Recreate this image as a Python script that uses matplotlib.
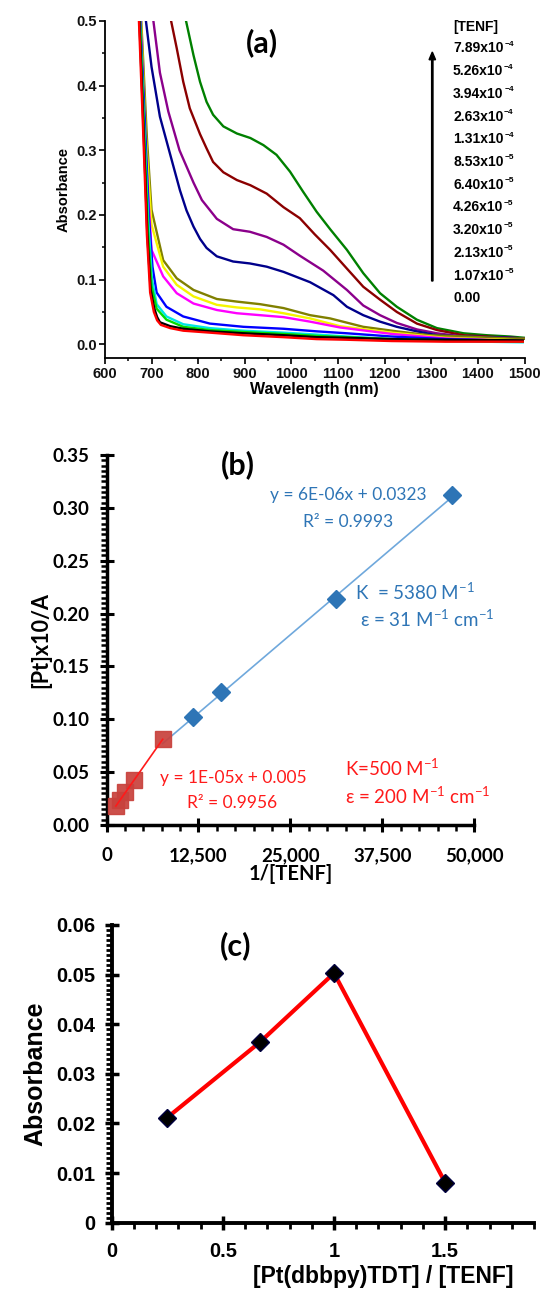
import numpy as np
import matplotlib
matplotlib.use('Agg')
import matplotlib.pyplot as plt
from matplotlib.ticker import MultipleLocator
from matplotlib.patches import FancyArrow
from matplotlib.text import Annotation

plt.rcParams['mathtext.fontset'] = 'custom'
plt.rcParams['mathtext.rm'] = 'Lato'
plt.rcParams['mathtext.bf'] = 'Liberation Sans:bold'

# ---------------- data: panel (a) spectra ----------------
wl_red = [673, 682, 690, 697, 705, 712, 720, 740, 768, 825, 897, 983, 1054, 1119, 1215, 1330, 1496]
ab_red = [0.50, 0.33, 0.17, 0.080, 0.050, 0.037, 0.030, 0.025, 0.021, 0.018, 0.014, 0.011, 0.008, 0.007, 0.005, 0.004, 0.004]
wl_black = [674, 683, 691, 698, 706, 712, 718, 740, 768, 825, 897, 983, 1054, 1119, 1215, 1330, 1496]
ab_black = [0.50, 0.33, 0.17, 0.085, 0.055, 0.042, 0.034, 0.028, 0.024, 0.020, 0.017, 0.014, 0.011, 0.010, 0.008, 0.007, 0.006]
wl_green = [675, 684, 692, 700, 711, 732, 768, 825, 897, 983, 1054, 1119, 1215, 1330, 1496]
ab_green = [0.50, 0.33, 0.18, 0.090, 0.055, 0.038, 0.027, 0.022, 0.019, 0.016, 0.013, 0.011, 0.008, 0.006, 0.004]
wl_cyan = [675, 684, 693, 701, 711, 732, 768, 825, 897, 983, 1054, 1119, 1215, 1330, 1496]
ab_cyan = [0.50, 0.34, 0.19, 0.100, 0.062, 0.043, 0.031, 0.025, 0.021, 0.018, 0.015, 0.012, 0.008, 0.005, 0.003]
wl_blue = [676, 686, 694, 702, 711, 732, 768, 825, 897, 983, 1054, 1119, 1215, 1330, 1496]
ab_blue = [0.50, 0.34, 0.20, 0.120, 0.080, 0.058, 0.043, 0.032, 0.027, 0.024, 0.020, 0.017, 0.012, 0.008, 0.005]
wl_magenta = [676, 687, 700, 725, 754, 790, 840, 883, 933, 983, 1040, 1104, 1215, 1330, 1496]
ab_magenta = [0.50, 0.30, 0.146, 0.105, 0.079, 0.063, 0.053, 0.048, 0.045, 0.042, 0.035, 0.026, 0.016, 0.009, 0.005]
wl_yellow = [677, 688, 700, 725, 754, 790, 840, 883, 933, 983, 1040, 1104, 1215, 1330, 1496]
ab_yellow = [0.50, 0.32, 0.185, 0.120, 0.092, 0.074, 0.061, 0.057, 0.054, 0.048, 0.040, 0.028, 0.018, 0.010, 0.006]
wl_olive = [678, 690, 700, 725, 754, 790, 840, 883, 933, 983, 1040, 1083, 1154, 1226, 1297, 1369, 1469, 1500]
ab_olive = [0.50, 0.32, 0.208, 0.130, 0.102, 0.084, 0.070, 0.066, 0.062, 0.056, 0.045, 0.040, 0.027, 0.020, 0.014, 0.012, 0.009, 0.009]
wl_navy = [688, 700, 718, 747, 761, 775, 790, 804, 818, 840, 875, 911, 947, 983, 1040, 1090, 1119, 1154, 1190, 1226, 1269, 1312, 1369, 1469, 1500]
ab_navy = [0.50, 0.429, 0.352, 0.275, 0.238, 0.207, 0.182, 0.163, 0.149, 0.136, 0.128, 0.125, 0.120, 0.112, 0.096, 0.076, 0.058, 0.045, 0.035, 0.027, 0.020, 0.014, 0.012, 0.010, 0.009]
wl_purple = [704, 718, 736, 760, 790, 808, 840, 875, 911, 947, 983, 1018, 1068, 1119, 1154, 1190, 1226, 1269, 1312, 1369, 1469, 1500]
ab_purple = [0.50, 0.42, 0.36, 0.30, 0.25, 0.223, 0.194, 0.178, 0.174, 0.166, 0.154, 0.137, 0.114, 0.084, 0.060, 0.045, 0.033, 0.023, 0.017, 0.012, 0.010, 0.009]
wl_maroon = [742, 754, 768, 782, 804, 818, 832, 854, 883, 912, 947, 983, 1018, 1050, 1083, 1119, 1154, 1190, 1226, 1269, 1312, 1369, 1469, 1500]
ab_maroon = [0.50, 0.458, 0.406, 0.365, 0.325, 0.303, 0.282, 0.266, 0.254, 0.246, 0.233, 0.212, 0.195, 0.170, 0.146, 0.117, 0.089, 0.069, 0.050, 0.032, 0.022, 0.014, 0.010, 0.009]
wl_dkgreen = [774, 790, 804, 818, 832, 854, 883, 912, 940, 968, 997, 1025, 1054, 1083, 1119, 1154, 1190, 1226, 1269, 1312, 1369, 1419, 1469, 1500]
ab_dkgreen = [0.50, 0.447, 0.406, 0.375, 0.355, 0.337, 0.326, 0.319, 0.308, 0.293, 0.267, 0.236, 0.205, 0.178, 0.146, 0.110, 0.079, 0.058, 0.038, 0.025, 0.017, 0.014, 0.012, 0.010]

spectra_wl = [wl_dkgreen, wl_maroon, wl_purple, wl_navy, wl_olive, wl_yellow,
              wl_magenta, wl_blue, wl_cyan, wl_green, wl_black, wl_red]
spectra_ab = [ab_dkgreen, ab_maroon, ab_purple, ab_navy, ab_olive, ab_yellow,
              ab_magenta, ab_blue, ab_cyan, ab_green, ab_black, ab_red]
spectra_colors = ['#008000', '#8B0000', '#8B008B', '#00008B', '#808000', '#F5F500',
                  '#FF00FF', '#0000FF', '#00E5E5', '#00DD00', '#000000', '#FF0000']

tenf_mant = ['7.89', '5.26', '3.94', '2.63', '1.31', '8.53', '6.40', '4.26', '3.20', '2.13', '1.07']
tenf_exp = ['-4', '-4', '-4', '-4', '-4', '-5', '-5', '-5', '-5', '-5', '-5']

a_xticks = [600, 700, 800, 900, 1000, 1100, 1200, 1300, 1400, 1500]
a_yticks = [0.0, 0.1, 0.2, 0.3, 0.4, 0.5]

# ---------------- data: panel (b) ----------------
inv_red = [1267, 1901, 2538, 3802, 7634]
val_red = [0.0177, 0.024, 0.031, 0.043, 0.081]
inv_blue = [11723, 15625, 31250, 46948]
val_blue = [0.102, 0.1255, 0.2135, 0.312]
blue_line_start = 7634
b_xticks = [0, 12500, 25000, 37500, 50000]
b_xticklabels = ['0', '12,500', '25,000', '37,500', '50,000']
b_yticks = [0.00, 0.05, 0.10, 0.15, 0.20, 0.25, 0.30, 0.35]

# ---------------- data: panel (c) ----------------
ratio = [0.25, 0.667, 1.0, 1.5]
absc = [0.0212, 0.0364, 0.0503, 0.0081]
c_xticks = [0, 0.5, 1, 1.5]
c_xticklabels = ['0', '0.5', '1', '1.5']
c_yticks = [0, 0.01, 0.02, 0.03, 0.04, 0.05, 0.06]
c_yticklabels = ['0', '0.01', '0.02', '0.03', '0.04', '0.05', '0.06']

# ---------------- figure ----------------
W, H = 543, 1289
fig = plt.figure(figsize=(W / 100, H / 100), dpi=100)


def ax_px(l, r, t, b):
    return fig.add_axes([l / W, 1 - b / H, (r - l) / W, (b - t) / H])


def ftext(x, y, s, **kw):
    return fig.text(x / W, 1 - y / H, s, **kw)


ARIAL = ['Liberation Sans', 'DejaVu Sans']
CAL = ['Lato', 'DejaVu Sans']

# ---- panel (a)
axa = ax_px(104.9, 524.6, 21, 358.5)
for wl, ab, col in zip(spectra_wl, spectra_ab, spectra_colors):
    axa.plot(wl, ab, color=col, lw=1.7, solid_joinstyle='round', clip_on=True)
axa.set_xlim(600, 1500)
axa.set_ylim(-0.022, 0.5)
for s in ['top', 'right']:
    axa.spines[s].set_visible(False)
for s in ['left', 'bottom']:
    axa.spines[s].set_linewidth(1.3)
axa.set_xticks(a_xticks)
axa.set_xticklabels([str(v) for v in a_xticks], fontfamily=ARIAL, fontweight='bold', fontsize=10.5)
axa.set_yticks(a_yticks)
axa.set_yticklabels(['%.1f' % v for v in a_yticks], fontfamily=ARIAL, fontweight='bold', fontsize=10.5)
axa.xaxis.set_minor_locator(MultipleLocator(50))
axa.yaxis.set_minor_locator(MultipleLocator(0.05))
axa.tick_params(which='major', direction='out', length=4, width=1.3, pad=2, colors='#111111')
axa.tick_params(which='minor', direction='out', length=2.5, width=1.1)
axa.set_xlabel('Wavelength (nm)', fontfamily=ARIAL, fontweight='bold', fontsize=11.5, labelpad=1)
axa.set_ylabel('Absorbance', fontfamily=ARIAL, fontweight='bold', fontsize=10.5, labelpad=4)
ftext(262, 43, '(a)', fontfamily=CAL, fontweight='bold', fontsize=22, ha='center', va='center')

ftext(453, 27, '[TENF]', fontfamily=ARIAL, fontweight='bold', fontsize=10, ha='left', va='center')
for i, (m, e) in enumerate(zip(tenf_mant, tenf_exp)):
    t1 = ftext(453, 48.5 + i * 22.7, m + 'x10', fontfamily=ARIAL,
               fontweight='bold', fontsize=10, ha='left', va='center')
    fig.add_artist(Annotation('\u2212' + e[1:], xy=(1.0, 1.0), xycoords=t1,
                              xytext=(0.5, 0.5), textcoords='offset points',
                              fontfamily=ARIAL, fontweight='bold', fontsize=6,
                              ha='left', va='top'))
ftext(453, 48.5 + 11 * 22.7, '0.00', fontfamily=ARIAL, fontweight='bold', fontsize=10, ha='left', va='center')
arr = FancyArrow(432.3 / W, 1 - 281 / H, 0, (281 - 52) / H, width=0.0025,
                 head_width=0.012, head_length=0.006, length_includes_head=True,
                 color='black', transform=fig.transFigure, figure=fig)
fig.patches.append(arr)

# ---- panel (b)
axb = ax_px(106.5, 474.4, 455, 825)
xb_red = np.array(inv_red, dtype=float)
xb_blue = np.array(inv_blue, dtype=float)
pb = np.polyfit(xb_blue, val_blue, 1)
pr = np.polyfit(xb_red, val_red, 1)
xl_b = np.array([blue_line_start, max(inv_blue)], dtype=float)
xl_r = np.array([min(inv_red), max(inv_red)], dtype=float)
axb.plot(xl_b, np.polyval(pb, xl_b), color='#6FA8DC', lw=1.2, zorder=2)
axb.plot(inv_blue, val_blue, ls='none', marker='D', ms=9, color='#2E75B6', zorder=3)
axb.plot(inv_red, val_red, ls='none', marker='s', ms=11, color='#C8413C', alpha=0.92, zorder=4)
axb.plot(xl_r, np.polyval(pr, xl_r), color='#FF1A1A', lw=1.2, zorder=5)
axb.set_xlim(0, 50000)
axb.set_ylim(0, 0.35)
for s in ['top', 'right']:
    axb.spines[s].set_visible(False)
for s in ['left', 'bottom']:
    axb.spines[s].set_linewidth(2.5)
axb.set_xticks(b_xticks)
axb.set_xticklabels(b_xticklabels, fontfamily=CAL, fontweight='bold', fontsize=13.5)
axb.set_yticks(b_yticks)
axb.set_yticklabels(['%.2f' % v for v in b_yticks], fontfamily=CAL, fontweight='bold', fontsize=13.5)
axb.xaxis.set_minor_locator(MultipleLocator(2500))
axb.yaxis.set_minor_locator(MultipleLocator(0.005))
axb.tick_params(which='major', direction='inout', length=10, width=2.2)
axb.tick_params(axis='y', which='major', pad=7)
axb.tick_params(axis='x', which='major', pad=11)
axb.tick_params(which='minor', direction='out', length=4.5, width=1.8)
axb.set_xlabel('1/[TENF]', fontfamily=CAL, fontweight='bold', fontsize=14.5, labelpad=0)
axb.set_ylabel('[Pt]x10/A', fontfamily=CAL, fontweight='bold', fontsize=15.5, labelpad=1)
ftext(238, 465, '(b)', fontfamily=CAL, fontweight='bold', fontsize=22, ha='center', va='center')

blue_t = '#2E75B6'
red_t = '#FF1A1A'
ftext(348, 495, 'y = 6E-06x + 0.0323', fontfamily=CAL, color=blue_t, fontsize=12.5, ha='center', va='center')
ftext(348, 522, 'R² = 0.9993', fontfamily=CAL, color=blue_t, fontsize=12.5, ha='center', va='center')
ftext(355, 592, 'K  = 5380 M$^{\\mathrm{-1}}$', fontfamily=CAL, color=blue_t, fontsize=13.5, ha='left', va='center')
ftext(360, 619, 'ε = 31 M$^{\\mathrm{-1}}$ cm$^{\\mathrm{-1}}$', fontfamily=CAL, color=blue_t, fontsize=13.5, ha='left', va='center')
ftext(233, 778, 'y = 1E-05x + 0.005', fontfamily=CAL, color=red_t, fontsize=12.5, ha='center', va='center')
ftext(232, 803, 'R² = 0.9956', fontfamily=CAL, color=red_t, fontsize=12.5, ha='center', va='center')
ftext(345, 768, 'K=500 M$^{\\mathrm{-1}}$', fontfamily=CAL, color=red_t, fontsize=13.5, ha='left', va='center')
ftext(345, 796, 'ε = 200 M$^{\\mathrm{-1}}$ cm$^{\\mathrm{-1}}$', fontfamily=CAL, color=red_t, fontsize=13.5, ha='left', va='center')

# ---- panel (c)
axc = ax_px(111.8, 534, 925, 1222.7)
axc.plot(ratio, absc, color='#FF0000', lw=3, zorder=2)
axc.plot(ratio, absc, ls='none', marker='D', ms=9, color='black', mec='#000040', zorder=3)
axc.set_xlim(0, 1.9)
axc.set_ylim(0, 0.06)
for s in ['top', 'right']:
    axc.spines[s].set_visible(False)
for s in ['left', 'bottom']:
    axc.spines[s].set_linewidth(2.8)
axc.set_xticks(c_xticks)
axc.set_xticklabels(c_xticklabels, fontfamily=ARIAL, fontweight='bold', fontsize=14.5)
axc.set_yticks(c_yticks)
axc.set_yticklabels(c_yticklabels, fontfamily=ARIAL, fontweight='bold', fontsize=14.5)
axc.xaxis.set_minor_locator(MultipleLocator(0.1))
axc.yaxis.set_minor_locator(MultipleLocator(0.001))
axc.tick_params(which='major', direction='inout', length=10, width=2.5)
axc.tick_params(axis='y', which='major', pad=7)
axc.tick_params(axis='x', which='major', pad=9)
axc.tick_params(which='minor', direction='out', length=4.5, width=2)
axc.set_ylabel('Absorbance', fontfamily=ARIAL, fontweight='bold', fontsize=18, labelpad=6)
ftext(383, 1276, '[Pt(dbbpy)TDT] / [TENF]', fontfamily=ARIAL, fontweight='bold', fontsize=16.5, ha='center', va='center')
ftext(236, 946, '(c)', fontfamily=CAL, fontweight='bold', fontsize=22, ha='center', va='center')

fig.savefig('out.png', dpi=100)
